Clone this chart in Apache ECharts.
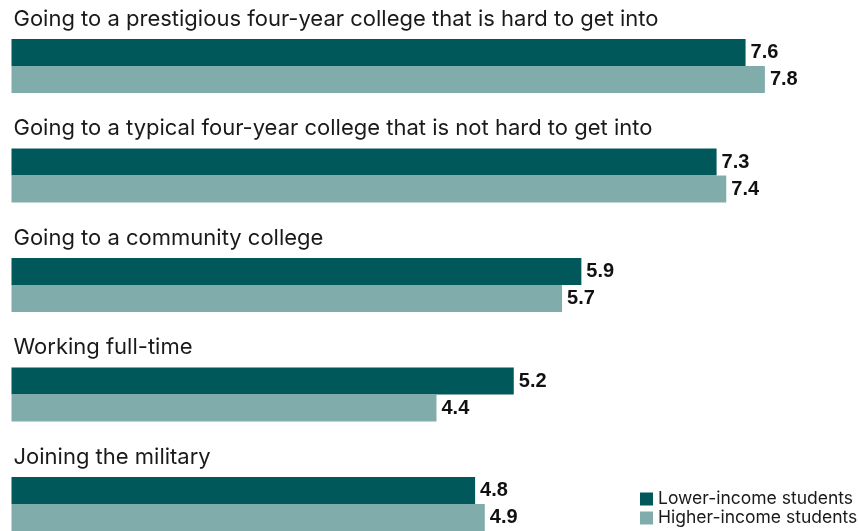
<!DOCTYPE html>
<html><head><meta charset="utf-8">
<script src="https://cdn.jsdelivr.net/npm/echarts@6/dist/echarts.min.js"></script>
<style>html,body{margin:0;padding:0;background:#fff}#c{width:859px;height:531px}</style>
</head><body><div id="c"></div>
<script>
const categories = [
  "Going to a prestigious four-year college that is hard to get into",
  "Going to a typical four-year college that is not hard to get into",
  "Going to a community college",
  "Working full-time",
  "Joining the military"
];
const lowerIncome = [7.6, 7.3, 5.9, 5.2, 4.8];
const higherIncome = [7.8, 7.4, 5.7, 4.4, 4.9];
const seriesNames = ["Lower-income students", "Higher-income students"];

const chart = echarts.init(document.getElementById('c'), null, {renderer: 'canvas'});
const valueLabel = {
  show: true, position: 'right', distance: 5,
  fontFamily: 'Liberation Sans', fontWeight: 'bold', fontSize: 20, color: '#111',
  formatter: p => p.value.toFixed(1)
};
chart.setOption({
  animation: false,
  grid: {left: 11.5, top: 11.25, width: 821, height: 547.5, containLabel: false, outerBoundsMode: 'none'},
  xAxis: {type: 'value', min: 0, max: 8.5, show: false},
  yAxis: {
    type: 'category', data: categories, inverse: true,
    axisLine: {show: false}, axisTick: {show: false}, splitLine: {show: false},
    axisLabel: {
      inside: true, margin: 2, align: 'left', verticalAlign: 'bottom',
      padding: [0, 0, 34, 0], lineHeight: 26,
      fontFamily: 'Inter', fontSize: 22, color: '#1a1a1a'
    }
  },
  legend: {
    orient: 'vertical', left: 640, bottom: 4, padding: 0, itemWidth: 13, itemHeight: 13, itemGap: 1,
    icon: 'rect',
    textStyle: {fontFamily: 'Inter', fontSize: 17.5, lineHeight: 13, color: '#1a1a1a'},
    data: seriesNames
  },
  series: [
    {name: seriesNames[0], type: 'bar', data: lowerIncome, barWidth: 27, barGap: '0%',
     itemStyle: {color: '#01585A'}, label: valueLabel},
    {name: seriesNames[1], type: 'bar', data: higherIncome, barWidth: 27, barGap: '0%',
     itemStyle: {color: '#80ADAC'}, label: valueLabel}
  ]
});
</script></body></html>
